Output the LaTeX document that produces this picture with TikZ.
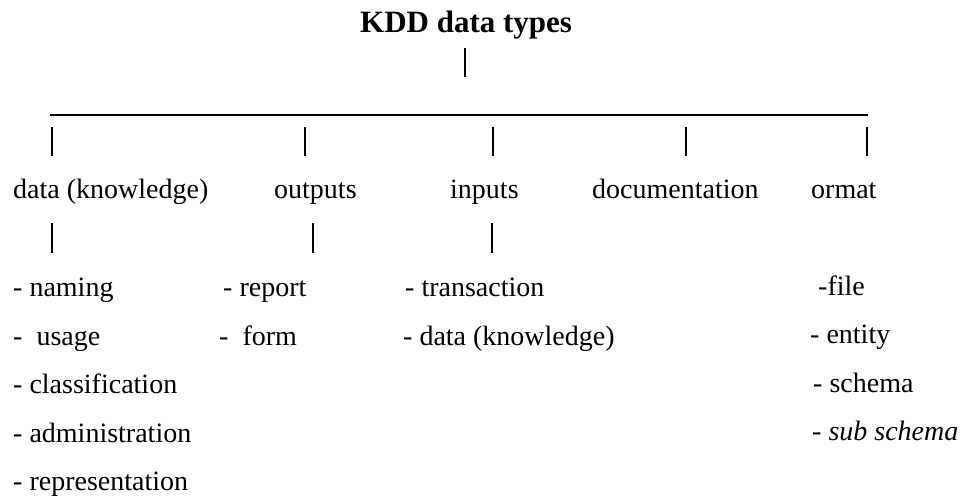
\documentclass[tikz,border=0pt]{standalone}
\usepackage{fontspec}
\setmainfont{Liberation Serif}
\begin{document}
\begin{tikzpicture}[x=1pt,y=-1pt,
  lbl/.style={anchor=base west,inner sep=0pt,font=\fontsize{28}{34}\selectfont},
  ttl/.style={anchor=base west,inner sep=0pt,font=\bfseries\fontsize{31}{37}\selectfont},
  tick/.style={line width=1.2pt},
  bar/.style={line width=1.6pt}]
\useasboundingbox (0,0) rectangle (962,497);
% title
\node[ttl] (title) at (360,33) {KDD data types};
\coordinate (tA) at (465,48); \coordinate (tB) at (465,77);
\draw[tick] (tA) -- (tB);
% bar
\coordinate (bL) at (50,115); \coordinate (bR) at (868,115);
\draw[bar] (bL) -- (bR);
% upper ticks
\foreach \n/\x in {1/52,2/305,3/493,4/686,5/867}{
  \coordinate (u\n a) at (\x,127); \coordinate (u\n b) at (\x,156);
  \draw[tick] (u\n a) -- (u\n b);
}
% category labels
\node[lbl] (c1) at (13,199) {data (knowledge)};
\node[lbl] (c2) at (274,199) {outputs};
\node[lbl] (c3) at (450,199) {inputs};
\node[lbl] (c4) at (592,199) {documentation};
\node[lbl] (c5) at (811,199) {ormat};
% lower ticks
\foreach \n/\x in {1/52,2/313,3/492}{
  \coordinate (l\n a) at (\x,223); \coordinate (l\n b) at (\x,253);
  \draw[tick] (l\n a) -- (l\n b);
}
% data column
\node[lbl] (d1) at (13,297) {- naming};
\node[lbl] (d2) at (13,345) {-\ \ usage};
\node[lbl] (d3) at (13,393) {- classification};
\node[lbl] (d4) at (13,442) {- administration};
\node[lbl] (d5) at (13,490) {- representation};
% outputs column
\node[lbl] (o1) at (223,297) {- report};
\node[lbl] (o2) at (219,345) {-\ \ form};
% inputs column
\node[lbl] (i1) at (405,297) {- transaction};
\node[lbl] (i2) at (403,345) {- data (knowledge)};
% ormat column
\node[lbl] (f1) at (818,296) {-file};
\node[lbl] (f2) at (810,344) {- entity};
\node[lbl] (f3) at (813,392) {- schema};
\node[lbl] (f4) at (812,440) {- \textit{sub schema}};
\end{tikzpicture}
\end{document}
